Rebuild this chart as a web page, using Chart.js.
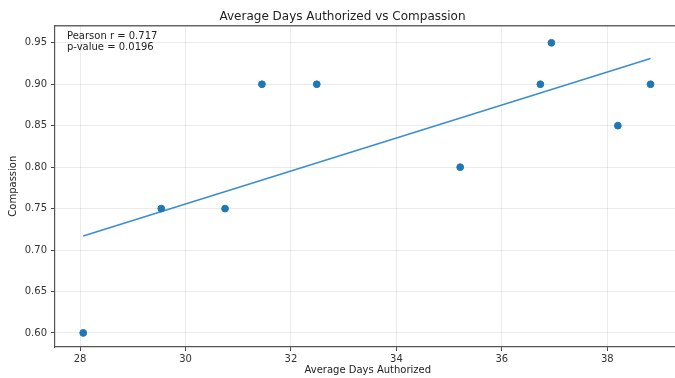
<!DOCTYPE html>
<html>
<head>
<meta charset="utf-8">
<script src="https://cdn.jsdelivr.net/npm/chart.js@4/dist/chart.umd.min.js"></script>
<style>
html,body{margin:0;padding:0;background:#fff;overflow:hidden;}
#wrap{width:675px;height:378px;position:relative;overflow:hidden;}
</style>
</head>
<body>
<div id="wrap"><canvas id="c" width="685" height="378"></canvas></div>
<script>
const avgDays = [28.06, 29.54, 30.75, 31.45, 32.49, 35.21, 36.73, 36.94, 38.20, 38.82];
const compassion = [0.60, 0.75, 0.75, 0.90, 0.90, 0.80, 0.90, 0.95, 0.85, 0.90];
const fitX = [28.06, 38.82];
const fitY = [0.717, 0.931];
const xTicks = [28, 30, 32, 34, 36, 38];
const yTicks = [0.60, 0.65, 0.70, 0.75, 0.80, 0.85, 0.90, 0.95];
const statsText = ['Pearson r = 0.717', 'p-value = 0.0196'];

const FONT = "'DejaVu Sans', sans-serif";
const points = avgDays.map((x, i) => ({x: x, y: compassion[i]}));
const fit = fitX.map((x, i) => ({x: x, y: fitY[i]}));

const annot = {
  id: 'annot',
  afterDraw(chart) {
    const ctx = chart.ctx, a = chart.chartArea;
    ctx.save();
    ctx.fillStyle = '#222';
    ctx.font = '10px ' + FONT;
    ctx.textBaseline = 'middle';
    statsText.forEach((t, i) => ctx.fillText(t, a.left + 12, a.top + 11 + i * 11));
    ctx.restore();
  }
};

new Chart(document.getElementById('c'), {
  type: 'scatter',
  data: {
    datasets: [
      {data: fit, showLine: true, borderColor: '#3a8ed0', borderWidth: 1.5, pointRadius: 0, fill: false, order: 2},
      {data: points, backgroundColor: '#1f77b4', borderColor: '#1f77b4', pointRadius: 3.4, pointHoverRadius: 3.4, order: 1}
    ]
  },
  options: {
    responsive: false,
    animation: false,
    layout: {padding: 0},
    plugins: {
      legend: {display: false},
      tooltip: {enabled: false},
      title: {display: true, text: 'Average Days Authorized vs Compassion', color: '#222',
        font: {family: FONT, size: 12, weight: 'normal'}, padding: {top: 10, bottom: 1}}
    },
    scales: {
      x: {
        type: 'linear', min: 27.525, max: 39.39,
        afterFit(s) { s.height = 31; },
        afterBuildTicks(s) { s.ticks = xTicks.map(v => ({value: v})); },
        ticks: {font: {family: FONT, size: 10}, color: '#333', padding: 2},
        grid: {color: 'rgba(0,0,0,0.08)', tickColor: '#444', tickLength: 4},
        border: {display: true, color: '#555', width: 1.2},
        title: {display: true, text: 'Average Days Authorized', color: '#222', font: {family: FONT, size: 10}, padding: {top: 0, bottom: 2}}
      },
      x2: {
        type: 'linear', position: 'top', min: 27.525, max: 39.39,
        afterFit(s) { s.height = 0; },
        afterBuildTicks(s) { s.ticks = xTicks.map(v => ({value: v})); },
        ticks: {display: false},
        grid: {display: false, drawOnChartArea: false, drawTicks: false},
        border: {display: true, color: '#666', width: 1.5}
      },
      y: {
        type: 'linear', min: 0.583, max: 0.971,
        afterFit(s) { s.width = 55; },
        afterBuildTicks(s) { s.ticks = yTicks.map(v => ({value: v})); },
        ticks: {font: {family: FONT, size: 10}, color: '#333', padding: 4, callback: v => v.toFixed(2)},
        grid: {color: 'rgba(0,0,0,0.08)', tickColor: '#444', tickLength: 4},
        border: {display: true, color: '#555', width: 1.2},
        title: {display: true, text: 'Compassion', color: '#222', font: {family: FONT, size: 10}, padding: {top: 7, bottom: 0}}
      }
    }
  },
  plugins: [annot]
});
</script>
</body>
</html>
